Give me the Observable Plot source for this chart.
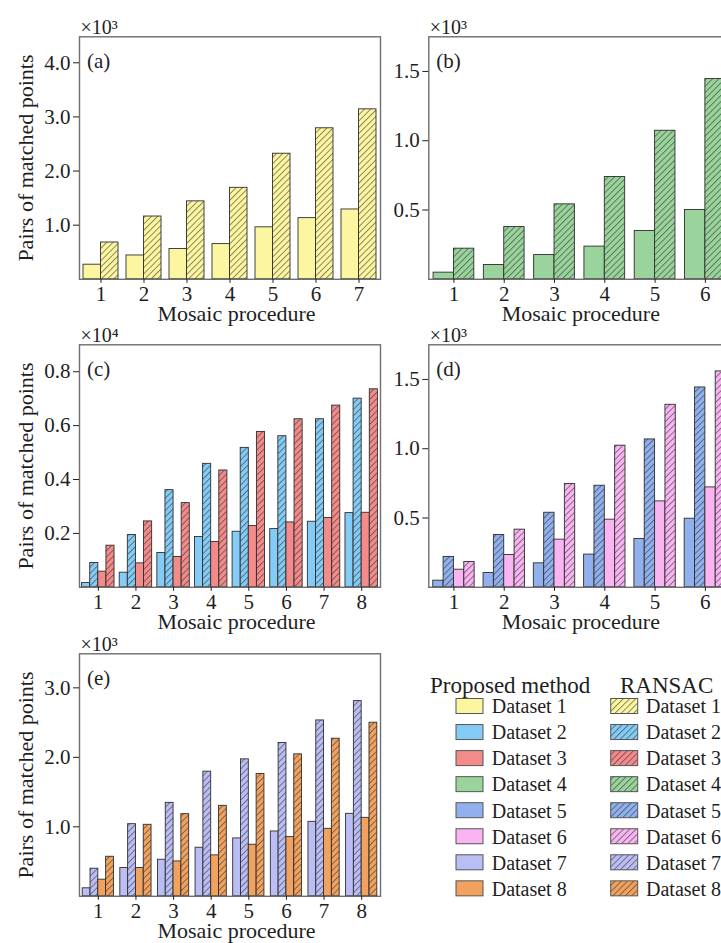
<!DOCTYPE html>
<html>
<head>
<meta charset="utf-8">
<script src="https://cdn.jsdelivr.net/npm/d3@7"></script>
<script src="https://cdn.jsdelivr.net/npm/@observablehq/plot@0.6"></script>
<style>
  html, body { margin: 0; padding: 0; background: #fff; overflow: hidden; }
  #root { position: relative; width: 721px; height: 943px; overflow: hidden; background: #fff; }
  .panel { position: absolute; }
</style>
</head>
<body>
<svg width="0" height="0" style="position:absolute"><defs id="patterns"></defs></svg>
<div id="root"></div>
<script>
// ---------------- data ----------------
const procedures7 = [1, 2, 3, 4, 5, 6, 7];
const procedures8 = [1, 2, 3, 4, 5, 6, 7, 8];
const visibleProcedures = [1, 2, 3, 4, 5, 6];

const datasetNames = ["Dataset 1", "Dataset 2", "Dataset 3", "Dataset 4", "Dataset 5", "Dataset 6", "Dataset 7", "Dataset 8"];
const datasetColors = ["#fdf6a1", "#84cbf6", "#f48b8b", "#9ad49c", "#91b1ee", "#f8b5f1", "#bbbef5", "#f2a25f"];
const methodNames = ["Proposed method", "RANSAC"];

// (a) Dataset 1
const ds1Proposed = [270, 440, 560, 650, 960, 1130, 1290];
const ds1Ransac = [680, 1160, 1440, 1690, 2320, 2790, 3140];
// (b) Dataset 4 (visible procedures only)
const ds4Proposed = [48, 103, 175, 236, 349, 500];
const ds4Ransac = [221, 377, 541, 738, 1072, 1445];
// (c) Datasets 2 and 3
const ds2Proposed = [160, 543, 1272, 1865, 2062, 2161, 2433, 2754];
const ds2Ransac = [902, 1939, 3606, 4582, 5175, 5607, 6237, 7002];
const ds3Proposed = [580, 889, 1124, 1680, 2272, 2408, 2569, 2766];
const ds3Ransac = [1544, 2445, 3125, 4335, 5767, 6237, 6743, 7348];
// (d) Datasets 5 and 6 (visible procedures only)
const ds5Proposed = [48, 103, 173, 236, 349, 495];
const ds5Ransac = [219, 377, 538, 733, 1067, 1442];
const ds6Proposed = [127, 233, 344, 488, 620, 721];
const ds6Ransac = [183, 416, 745, 1022, 1317, 1558];
// (e) Datasets 7 and 8
const ds7Proposed = [115, 407, 526, 699, 833, 933, 1072, 1187];
const ds7Ransac = [397, 1038, 1345, 1794, 1971, 2206, 2531, 2809];
const ds8Proposed = [239, 407, 502, 589, 742, 852, 971, 1129];
const ds8Ransac = [569, 1029, 1182, 1302, 1761, 2043, 2268, 2498];

// tick labels
const ticksA = [1000, 2000, 3000, 4000];
const ticksB = [500, 1000, 1500];
const ticksC = [2000, 4000, 6000, 8000];
const ticksD = [500, 1000, 1500];
const ticksE = [1000, 2000, 3000];

const xTitle = "Mosaic procedure";
const yTitle = "Pairs of matched points";

// ---------------- styling ----------------
const FONT = '"Liberation Serif", "Times New Roman", Times, serif';
const INK = "#1e1e1e";

// hatch patterns
const defs = document.getElementById("patterns");
const NS = "http://www.w3.org/2000/svg";
datasetColors.forEach((c, i) => {
  const p = document.createElementNS(NS, "pattern");
  p.setAttribute("id", "hatch-" + i);
  p.setAttribute("patternUnits", "userSpaceOnUse");
  p.setAttribute("width", "4.4");
  p.setAttribute("height", "4.4");
  p.setAttribute("patternTransform", "rotate(45)");
  const r = document.createElementNS(NS, "rect");
  r.setAttribute("width", "4.4"); r.setAttribute("height", "4.4"); r.setAttribute("fill", c);
  const l = document.createElementNS(NS, "line");
  l.setAttribute("x1", "0.5"); l.setAttribute("y1", "-1"); l.setAttribute("x2", "0.5"); l.setAttribute("y2", "5.4");
  l.setAttribute("stroke", "#2a2a2a"); l.setAttribute("stroke-opacity", "0.6"); l.setAttribute("stroke-width", "0.9");
  p.appendChild(r); p.appendChild(l);
  defs.appendChild(p);
});

const root = document.getElementById("root");

function panel(cfg) {
  const H = 330, mT = 36.3, frameH = 242.5, mB = H - mT - frameH;
  const innerW = cfg.frameW;
  const step = innerW / cfg.procs.length;
  const bw = step * (1 - cfg.padding);
  const n = cfg.series.length;
  const sub = bw / n;
  const marks = [];
  cfg.series.forEach((s, k) => {
    const rows = s.values.map((v, i) => ({proc: cfg.procs[i], value: v}));
    marks.push(Plot.barY(rows, {
      x: "proc", y: "value",
      fill: s.hatched ? `url(#hatch-${s.ds})` : datasetColors[s.ds],
      stroke: "#2e2e2e", strokeWidth: 0.9,
      insetLeft: k * sub, insetRight: (n - 1 - k) * sub
    }));
  });
  marks.push(Plot.frame({stroke: "#6e6e6e", strokeWidth: 1.4}));
  marks.push(Plot.axisX({ticks: cfg.xTicks || cfg.procs, tickSize: 4, tickPadding: 3, fontSize: 21, label: null, color: INK}));
  marks.push(Plot.axisY({ticks: cfg.yTicks, tickFormat: d => (d / cfg.div).toFixed(1), tickSize: 6, tickPadding: 3, fontSize: 21, label: null, color: INK}));
  marks.push(Plot.text([cfg.exp], {text: d => d, frameAnchor: "top-left", dx: 1, dy: -3, lineAnchor: "bottom", textAnchor: "start", fontSize: 20, fill: INK}));
  marks.push(Plot.text([cfg.tag], {text: d => d, frameAnchor: "top-left", dx: 7.5, dy: 31.5, lineAnchor: "bottom", textAnchor: "start", fontSize: 21, fill: INK}));
  marks.push(Plot.text([xTitle], {text: d => d, frameAnchor: "bottom-left", dx: cfg.titleDx, dy: 41.5, lineAnchor: "bottom", textAnchor: "middle", fontSize: 22, fill: INK}));
  if (cfg.showY) {
    marks.push(Plot.text([yTitle], {text: d => d, frameAnchor: "left", dx: -53.5, rotate: -90, textAnchor: "middle", fontSize: 22, fill: INK}));
  }
  const svg = Plot.plot({
    width: cfg.width, height: H,
    marginLeft: cfg.mL, marginRight: cfg.width - cfg.mL - cfg.frameW, marginTop: mT, marginBottom: mB,
    x: {type: "band", domain: cfg.procs, paddingInner: cfg.padding, paddingOuter: cfg.padding / 2, round: false},
    y: {domain: [0, cfg.yMax]},
    style: {fontFamily: FONT, fontSize: "21px", color: INK, background: "none", overflow: "visible"},
    marks
  });
  svg.classList.add("panel");
  svg.style.left = cfg.left + "px";
  svg.style.top = cfg.top + "px";
  root.appendChild(svg);
}

const L = {left: 0, width: 385, mL: 79, frameW: 301, titleDx: 157, showY: true};
const R = {left: 380, width: 440, mL: 48.3, frameW: 352, titleDx: 152, showY: false, xTicks: visibleProcedures};

panel({...L, top: 0, procs: procedures7, padding: 0.186, yMax: 4480, yTicks: ticksA, div: 1000, exp: "×10³", tag: "(a)",
  series: [{ds: 0, values: ds1Proposed}, {ds: 0, values: ds1Ransac, hatched: true}]});
panel({...R, top: 0, procs: procedures7, padding: 0.19, yMax: 1750, yTicks: ticksB, div: 1000, exp: "×10³", tag: "(b)",
  series: [{ds: 3, values: ds4Proposed}, {ds: 3, values: ds4Ransac, hatched: true}]});
panel({...L, top: 308.3, procs: procedures8, padding: 0.138, yMax: 9000, yTicks: ticksC, div: 10000, exp: "×10⁴", tag: "(c)",
  series: [{ds: 1, values: ds2Proposed}, {ds: 1, values: ds2Ransac, hatched: true}, {ds: 2, values: ds3Proposed}, {ds: 2, values: ds3Ransac, hatched: true}]});
panel({...R, top: 308.3, procs: procedures7, padding: 0.177, yMax: 1750, yTicks: ticksD, div: 1000, exp: "×10³", tag: "(d)",
  series: [{ds: 4, values: ds5Proposed}, {ds: 4, values: ds5Ransac, hatched: true}, {ds: 5, values: ds6Proposed}, {ds: 5, values: ds6Ransac, hatched: true}]});
panel({...L, top: 617, procs: procedures8, padding: 0.17, yMax: 3490, yTicks: ticksE, div: 1000, exp: "×10³", tag: "(e)",
  series: [{ds: 6, values: ds7Proposed}, {ds: 6, values: ds7Ransac, hatched: true}, {ds: 7, values: ds8Proposed}, {ds: 7, values: ds8Ransac, hatched: true}]});

// ---------------- legend ----------------
const lg = document.createElementNS(NS, "svg");
lg.setAttribute("width", 321); lg.setAttribute("height", 260);
lg.style.position = "absolute"; lg.style.left = "400px"; lg.style.top = "660px";
lg.style.fontFamily = FONT;
const ox = 400, oy = 660;
function txt(s, x, y, size) {
  const t = document.createElementNS(NS, "text");
  t.setAttribute("x", x - ox); t.setAttribute("y", y - oy);
  t.setAttribute("font-size", size); t.setAttribute("fill", INK);
  t.textContent = s; lg.appendChild(t);
}
function sw(fill, x, cy) {
  const r = document.createElementNS(NS, "rect");
  r.setAttribute("x", x - ox); r.setAttribute("y", cy - 7.5 - oy);
  r.setAttribute("width", 27); r.setAttribute("height", 15);
  r.setAttribute("fill", fill); r.setAttribute("stroke", "#555"); r.setAttribute("stroke-width", 1);
  lg.appendChild(r);
}
txt(methodNames[0], 430, 693.3, 23);
txt(methodNames[1], 620, 693.3, 23);
datasetNames.forEach((name, i) => {
  const cy = 706 + 26.05 * i;
  sw(datasetColors[i], 456, cy);
  txt(name, 491.7, cy + 7.3, 20);
  sw(`url(#hatch-${i})`, 610.7, cy);
  txt(name, 646, cy + 7.3, 20);
});
root.appendChild(lg);
</script>
</body>
</html>
